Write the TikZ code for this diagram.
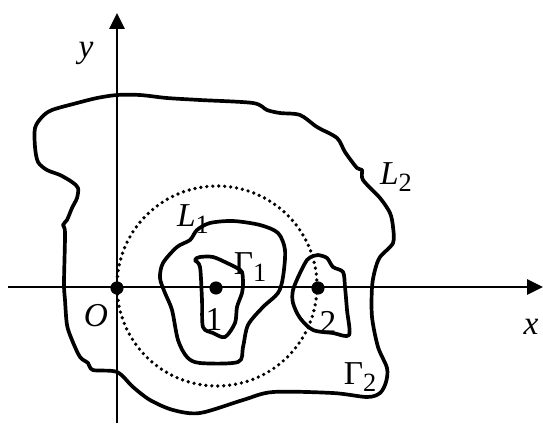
\documentclass[tikz,border=0pt]{standalone}
\usepackage{fontspec}
\setmainfont{Liberation Serif}
\usetikzlibrary{arrows.meta}
\newcommand\mysub[1]{\raisebox{-0.45ex}{\fontsize{15}{15}\selectfont #1}}
\begin{document}
\begin{tikzpicture}[x=0.02cm,y=-0.02cm,
  curve/.style={line width=2.1pt,line join=round},
  axis/.style={line width=1.3pt,-{Triangle[length=9pt,width=8.5pt]}},
  dot/.style={circle,fill=black,inner sep=0pt,minimum size=7.5pt},
  lab/.style={inner sep=0pt,font=\fontsize{19}{19}\selectfont}]
\useasboundingbox (0,0) rectangle (543,423);
% dotted circle
\draw[line width=2.1pt,line cap=round,dash pattern=on 0pt off 3.4pt] (217,286) circle[radius=2cm];
% L2
\draw[curve] plot[smooth cycle,tension=0.5] coordinates {
(117,95) (140,95) (167,98) (200,100) (253,103) (267,110) (280,113) (300,115)
(317,127) (337,138) (345,152) (357,168) (362,170) (363,180) (380,198) (390,213)
(393,227) (393,243) (380,257) (375,270) (372,287) (372,317) (378,347) (387,368)
(386,382) (380,393) (367,397) (333,393) (273,392) (243,400) (200,413) (173,410)
(150,400) (133,387) (117,372) (93,370) (88,363) (80,357) (72,340) (67,325)
(65,300) (64,283) (65,233) (63,225) (67,220) (72,208) (77,198) (78,188)
(72,182) (60,175) (47,170) (38,162) (35,147) (35,128) (42,117) (52,110)
(77,103) (97,98)};
% L1
\draw[curve] plot[smooth cycle,tension=0.5] coordinates {
(197,230) (210,223) (233,221) (260,225) (278,233) (285,250) (283,277) (278,293)
(263,307) (248,325) (243,347) (238,362) (200,363) (187,357) (178,340) (172,310)
(165,293) (160,278) (163,263) (177,247) (190,240)};
% Gamma1
\draw[curve] plot[smooth cycle,tension=0.5] coordinates {
(195,260) (200,257) (213,257) (227,263) (237,268) (242,272) (243,283) (242,293)
(237,307) (235,323) (225,337) (213,333) (203,327) (202,300) (200,267)};
% Gamma2
\draw[curve] plot[smooth cycle,tension=0.5] coordinates {
(318,255) (327,258) (333,267) (343,272) (345,287) (347,310) (349,335) (333,333)
(313,330) (300,318) (293,303) (293,290) (300,273) (307,260) (313,256)};
% axes
\coordinate (xs) at (8,287);
\coordinate (xe) at (543,287);
\coordinate (ys) at (117,423);
\coordinate (ye) at (117,13);
\draw[axis] (xs) -- (xe);
\draw[axis] (ys) -- (ye);
% points
\node[dot] (O) at (117,288) {};
\node[dot] (P1) at (216,288) {};
\node[dot] (P2) at (318,288) {};
% labels
\node[lab] (ylab) at (86,53) {\itshape y};
\node[lab] (xlab) at (531,327) {\itshape x};
\node[lab] (Olab) at (96,316) {\itshape O};
\node[lab] (L1lab) at (193,219) {\itshape L\mysub{\upshape 1}};
\node[lab] (L2lab) at (396,177) {\itshape L\mysub{\upshape 2}};
\node[lab] (G1lab) at (250,267) {Γ\mysub{1}};
\node[lab] (G2lab) at (360,377) {Γ\mysub{2}};
\node[lab] (n1) at (214,319) {1};
\node[lab] (n2) at (328,322) {2};
\end{tikzpicture}
\end{document}
